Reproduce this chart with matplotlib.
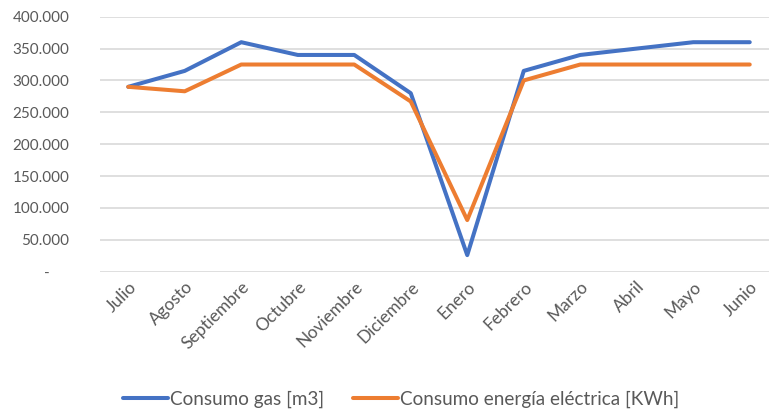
import matplotlib.pyplot as plt
from matplotlib.ticker import FuncFormatter, MultipleLocator

meses = ["Julio", "Agosto", "Septiembre", "Octubre", "Noviembre", "Diciembre",
         "Enero", "Febrero", "Marzo", "Abril", "Mayo", "Junio"]
gas = [290000, 315000, 360000, 340000, 340000, 280000,
       26000, 315000, 340000, 350000, 360000, 360000]
electrica = [290000, 283000, 325000, 325000, 325000, 267000,
             81000, 300000, 325000, 325000, 325000, 325000]

plt.rcParams['font.family'] = ['Lato', 'DejaVu Sans']

fig = plt.figure(figsize=(7.69, 4.13), dpi=100)
# plot area runs slightly past the right edge, as in the reference
ax = fig.add_axes([100 / 769, 1 - 271.7 / 413, 678 / 769, 255 / 413])

x = range(len(meses))
ax.plot(x, gas, color='#4472C4', lw=2.9, solid_capstyle='round',
        solid_joinstyle='round', label='Consumo gas [m3]')
ax.plot(x, electrica, color='#ED7D31', lw=2.9, solid_capstyle='round',
        solid_joinstyle='round', label='Consumo energía eléctrica [KWh]')

ax.set_xlim(-0.5, len(meses) - 0.5)
ax.set_ylim(0, 400000)
ax.yaxis.set_major_locator(MultipleLocator(50000))


def fmt(v, pos):
    if v == 0:
        return "-     "
    return f"{int(v):,}".replace(",", ".")


ax.yaxis.set_major_formatter(FuncFormatter(fmt))
ax.grid(axis='y', color='#D9D9D9', lw=1.2)
ax.set_axisbelow(True)
for s in ax.spines.values():
    s.set_visible(False)

ax.tick_params(axis='both', length=0, labelsize=11, labelcolor='#595959')
ax.tick_params(axis='y', pad=22)
ax.set_xticks(list(x))
ax.set_xticklabels(meses, rotation=45, ha='right', va='top',
                   rotation_mode='anchor', fontsize=12.5)
ax.tick_params(axis='x', pad=5)

leg = fig.legend(loc='center', bbox_to_anchor=(401 / 769, 1 - 399 / 413),
                 ncol=2, frameon=False, fontsize=13.6, handlelength=2.4,
                 handletextpad=0.1, columnspacing=1.5)
for t in leg.get_texts():
    t.set_color('#595959')

fig.savefig('out.png', dpi=100)
